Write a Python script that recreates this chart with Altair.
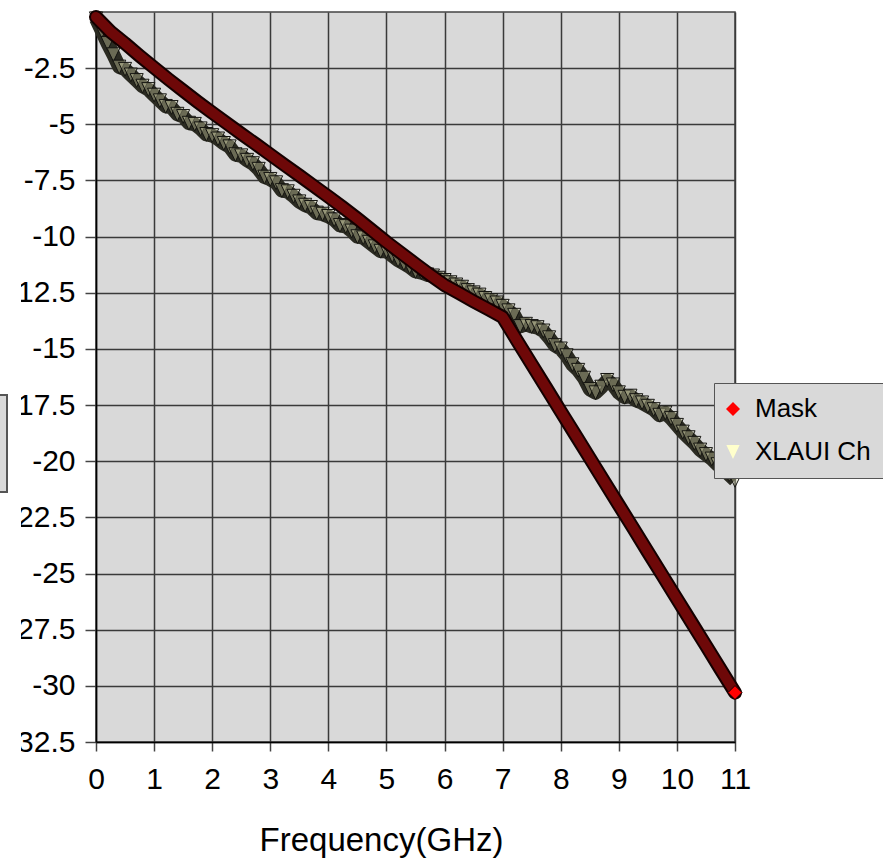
import altair as alt
import pandas as pd

# ---------------- data ----------------
freq_ch = [0.0, 0.1, 0.2, 0.3, 0.4, 0.5, 0.6, 0.7, 0.8, 0.9,
           1.0, 1.1, 1.2, 1.3, 1.4, 1.5, 1.6, 1.7, 1.8, 1.9,
           2.0, 2.1, 2.2, 2.3, 2.4, 2.5, 2.6, 2.7, 2.8, 2.9,
           3.0, 3.1, 3.2, 3.3, 3.4, 3.5, 3.6, 3.7, 3.8, 3.9,
           4.0, 4.1, 4.2, 4.3, 4.4, 4.5, 4.6, 4.7, 4.8, 4.9,
           5.0, 5.1, 5.2, 5.3, 5.4, 5.5, 5.6, 5.7, 5.8, 5.9,
           6.0, 6.1, 6.2, 6.3, 6.4, 6.5, 6.6, 6.7, 6.8, 6.9,
           7.0, 7.1, 7.2, 7.3, 7.4, 7.5, 7.6, 7.7, 7.8, 7.9,
           8.0, 8.1, 8.2, 8.3, 8.4, 8.5, 8.6, 8.7, 8.8, 8.9,
           9.0, 9.1, 9.2, 9.3, 9.4, 9.5, 9.6, 9.7, 9.8, 9.9,
           10.0, 10.1, 10.2, 10.3, 10.4, 10.5, 10.6, 10.7, 10.8, 10.9,
           11.0]
xlaui_db = [-0.3, -0.85, -1.4, -1.9, -2.45, -2.55, -2.8, -3.05, -3.3, -3.45,
            -3.7, -3.95, -4.2, -4.25, -4.55, -4.65, -4.95, -5.0, -5.2, -5.45,
            -5.5, -5.65, -5.85, -6.0, -6.35, -6.4, -6.6, -6.75, -7.0, -7.35,
            -7.45, -7.6, -7.95, -8.0, -8.2, -8.45, -8.6, -8.7, -8.95, -9.0,
            -9.1, -9.25, -9.5, -9.55, -9.75, -10.0, -10.05, -10.25, -10.45, -10.65,
            -10.65, -10.85, -11.05, -11.2, -11.35, -11.55, -11.6, -11.7, -11.75, -11.85,
            -11.95, -12.05, -12.15, -12.25, -12.4, -12.5, -12.6, -12.75, -12.85, -12.95,
            -13.1, -13.3, -13.5, -14.0, -13.9, -14.0, -14.05, -14.2, -14.5, -14.85,
            -15.0, -15.3, -15.7, -15.95, -16.3, -16.8, -16.95, -16.7, -16.4, -16.6,
            -16.95, -17.15, -17.1, -17.3, -17.4, -17.55, -17.7, -17.95, -17.85, -18.1,
            -18.4, -18.7, -18.95, -19.2, -19.5, -19.7, -19.9, -20.15, -20.35, -20.6,
            -20.85]

freq_mask = [0.0, 0.25, 0.5, 0.75, 1.0, 1.25, 1.5, 1.75, 2.0, 2.25, 2.5, 2.75,
             3.0, 3.25, 3.5, 3.75, 4.0, 4.25, 4.5, 4.75, 5.0, 5.25, 5.5, 5.75,
             6.0, 6.25, 6.5, 6.75, 7.0, 7.25, 7.5, 7.75, 8.0, 8.25, 8.5, 8.75,
             9.0, 9.25, 9.5, 9.75, 10.0, 10.25, 10.5, 10.75, 11.0]
mask_db = [-0.22, -0.88, -1.4, -1.95, -2.48, -3.0, -3.5, -4.0, -4.48, -4.95, -5.42, -5.88,
           -6.35, -6.82, -7.28, -7.75, -8.22, -8.7, -9.2, -9.72, -10.24, -10.73, -11.22, -11.7,
           -12.16, -12.52, -12.88, -13.23, -13.58, -14.64, -15.69, -16.73, -17.78, -18.82, -19.86, -20.91,
           -21.95, -22.99, -24.04, -25.08, -26.13, -27.17, -28.21, -29.26, -30.3]

series_names = ["Mask", "XLAUI Ch"]
series_fill = ["#ff0000", "#ffffcc"]
x_ticks = [0, 1, 2, 3, 4, 5, 6, 7, 8, 9, 10, 11]
y_ticks = [-2.5, -5, -7.5, -10, -12.5, -15, -17.5, -20, -22.5, -25, -27.5, -30, -32.5]

FONT = "Liberation Sans"

ch = pd.DataFrame({"f": freq_ch, "db": xlaui_db, "series": "XLAUI Ch"})
mask = pd.DataFrame({"f": freq_mask, "db": mask_db, "series": "Mask"})

tri_down = "M-0.95,-1L0.95,-1L0,1Z"

x_enc = alt.X("f:Q", scale=alt.Scale(domain=[0, 11], nice=False, zero=False),
              axis=alt.Axis(values=x_ticks, title="Frequency(GHz)", tickSize=9,
                            labelPadding=13, labelFlush=False, labelOverlap=False,
                            labelFontSize=30, titleFontSize=33, titleX=285, titleY=108,
                            titleBaseline="alphabetic", titleAlign="center",
                            labelExpr="'' + datum.value"))
y_enc = alt.Y("db:Q", scale=alt.Scale(domain=[-32.5, 0], nice=False, zero=False),
              axis=alt.Axis(values=y_ticks, title=None, tickSize=11, labelPadding=10,
                            labelFlush=False, labelOverlap=False, labelFontSize=30,
                            labelExpr="'' + datum.value"))

leg = alt.Legend(title=None, orient="none", legendX=618, legendY=371,
                 fillColor="#d9d9d9", strokeColor="#555555",
                 padding=13, symbolOffset=-7, labelFont=FONT, labelFontSize=26, labelColor="black",
                 symbolSize=196, symbolStrokeColor="#222222", symbolStrokeWidth=1,
                 labelOffset=9, rowPadding=17, zindex=1)
fill_scale = alt.Scale(domain=series_names, range=series_fill)
shape_scale = alt.Scale(domain=series_names, range=["diamond", tri_down])

ch_band = alt.Chart(ch).mark_line(color="#2b2b22", strokeWidth=14, strokeJoin="round",
                                  clip=False).encode(x=x_enc, y=y_enc)
ch_pts = alt.Chart(ch).mark_point(filled=True, size=190, opacity=1, fillOpacity=0.3,
                                  stroke="#141410", strokeWidth=1, clip=False).encode(
    x=x_enc, y=y_enc,
    fill=alt.Fill("series:N", scale=fill_scale, legend=leg),
    shape=alt.Shape("series:N", scale=shape_scale, legend=leg))

mask_edge = alt.Chart(mask).mark_line(color="#140000", strokeWidth=14, strokeJoin="round",
                                      strokeCap="round", clip=False).encode(x=x_enc, y=y_enc)
mask_core = alt.Chart(mask).mark_line(color="#6e0808", strokeWidth=10, strokeJoin="round",
                                      strokeCap="round", clip=False).encode(x=x_enc, y=y_enc)
mask_end = alt.Chart(mask).mark_point(filled=True, size=196, opacity=1, stroke="#140000",
                                      strokeWidth=1, clip=False).encode(
    x=x_enc, y=y_enc,
    fill=alt.Fill("series:N", scale=fill_scale, legend=leg),
    shape=alt.Shape("series:N", scale=shape_scale, legend=leg)
).transform_filter("datum.f == 11")

one = pd.DataFrame({"k": [0]})
cover = alt.Chart(one).mark_rect(color="white", clip=False).encode(
    x=alt.value(-110), x2=alt.value(-75), y=alt.value(-12), y2=alt.value(780))
title_box = alt.Chart(one).mark_rect(fill="#d9d9d9", stroke="#555555", strokeWidth=2, clip=False).encode(
    x=alt.value(-140), x2=alt.value(-89), y=alt.value(383), y2=alt.value(480))

chart = alt.layer(ch_band, ch_pts, mask_edge, mask_core, mask_end, cover, title_box).properties(
    width=639, height=730,
    padding={"left": 96, "top": 12, "right": 148, "bottom": 121},
    autosize=alt.AutoSizeParams(type="none"),
    background="white",
).configure_view(
    fill="#d9d9d9", stroke="#444444", strokeWidth=1.5
).configure_axis(
    labelFont=FONT, titleFont=FONT, labelColor="black", titleColor="black",
    titleFontWeight="normal", domainColor="black", domainWidth=1.5,
    tickColor="#444444", tickWidth=1.5, grid=True, gridColor="#3a3a3a", gridWidth=1.5,
)

chart.save("out.html", embed_options={"renderer": "svg", "actions": False})
